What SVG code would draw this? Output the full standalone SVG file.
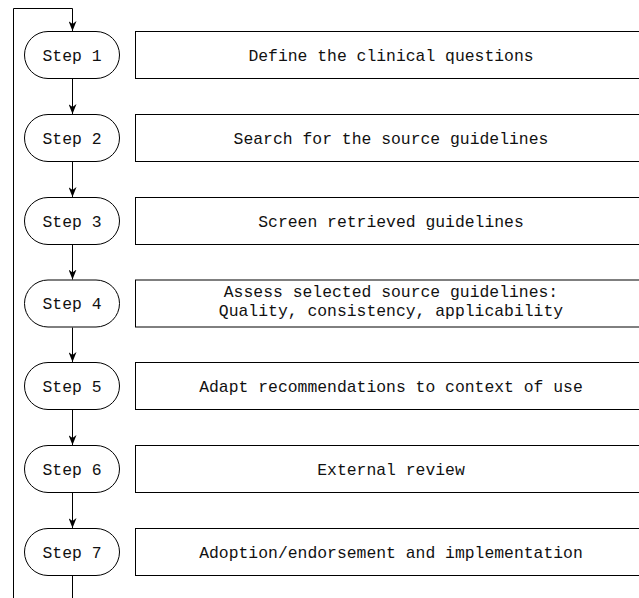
<svg xmlns="http://www.w3.org/2000/svg" width="639" height="598" viewBox="0 0 639 598">
<defs>
<marker id="arr" viewBox="0 0 10 8" refX="10" refY="4" markerWidth="10" markerHeight="8" markerUnits="userSpaceOnUse" orient="auto">
<path d="M0,0 L10,4 L0,8 L3,4 Z" fill="#000"/>
</marker>
<style>
.stad{fill:#fff;stroke:#000;stroke-width:1}
.box{fill:#fff;stroke:#000;stroke-width:1}
.t{font-family:"Courier New","Nimbus Mono PS","FreeMono","Liberation Mono",monospace;font-size:16.4px;fill:#111;text-anchor:middle}
.c{fill:none;stroke:#000;stroke-width:1}
</style>
</defs>
<rect width="639" height="598" fill="#fff"/>
<g id="connectors">
<path class="c" d="M13.5,598 L13.5,8.5 L72.5,8.5 L72.5,31" marker-end="url(#arr)"/>
<path class="c" d="M72.5,79 L72.5,114" marker-end="url(#arr)"/>
<path class="c" d="M72.5,162 L72.5,197" marker-end="url(#arr)"/>
<path class="c" d="M72.5,245 L72.5,279.5" marker-end="url(#arr)"/>
<path class="c" d="M72.5,327.5 L72.5,362" marker-end="url(#arr)"/>
<path class="c" d="M72.5,410 L72.5,445" marker-end="url(#arr)"/>
<path class="c" d="M72.5,493 L72.5,528" marker-end="url(#arr)"/>
<path class="c" d="M72.5,576 L72.5,598"/>
</g>
<g id="step1"><rect class="stad" x="24.5" y="31.5" width="95" height="47" rx="23.5"/><text class="t" x="72" y="60.5">Step 1</text></g>
<g id="box1"><rect class="box" x="135.5" y="31.5" width="512" height="47"/><text class="t" x="391" y="60.5">Define the clinical questions</text></g>
<g id="step2"><rect class="stad" x="24.5" y="114.5" width="95" height="47" rx="23.5"/><text class="t" x="72" y="143.5">Step 2</text></g>
<g id="box2"><rect class="box" x="135.5" y="114.5" width="512" height="47"/><text class="t" x="391" y="143.5">Search for the source guidelines</text></g>
<g id="step3"><rect class="stad" x="24.5" y="197.5" width="95" height="47" rx="23.5"/><text class="t" x="72" y="226.5">Step 3</text></g>
<g id="box3"><rect class="box" x="135.5" y="197.5" width="512" height="47"/><text class="t" x="391" y="226.5">Screen retrieved guidelines</text></g>
<g id="step4"><rect class="stad" x="24.5" y="280" width="95" height="47" rx="23.5"/><text class="t" x="72" y="309">Step 4</text></g>
<g id="box4"><rect class="box" x="135.5" y="280" width="512" height="47"/><text class="t" x="391" y="297">Assess selected source guidelines:</text><text class="t" x="391" y="316">Quality, consistency, applicability</text></g>
<g id="step5"><rect class="stad" x="24.5" y="362.5" width="95" height="47" rx="23.5"/><text class="t" x="72" y="391.5">Step 5</text></g>
<g id="box5"><rect class="box" x="135.5" y="362.5" width="512" height="47"/><text class="t" x="391" y="391.5">Adapt recommendations to context of use</text></g>
<g id="step6"><rect class="stad" x="24.5" y="445.5" width="95" height="47" rx="23.5"/><text class="t" x="72" y="474.5">Step 6</text></g>
<g id="box6"><rect class="box" x="135.5" y="445.5" width="512" height="47"/><text class="t" x="391" y="474.5">External review</text></g>
<g id="step7"><rect class="stad" x="24.5" y="528.5" width="95" height="47" rx="23.5"/><text class="t" x="72" y="557.5">Step 7</text></g>
<g id="box7"><rect class="box" x="135.5" y="528.5" width="512" height="47"/><text class="t" x="391" y="557.5">Adoption/endorsement and implementation</text></g>
</svg>
